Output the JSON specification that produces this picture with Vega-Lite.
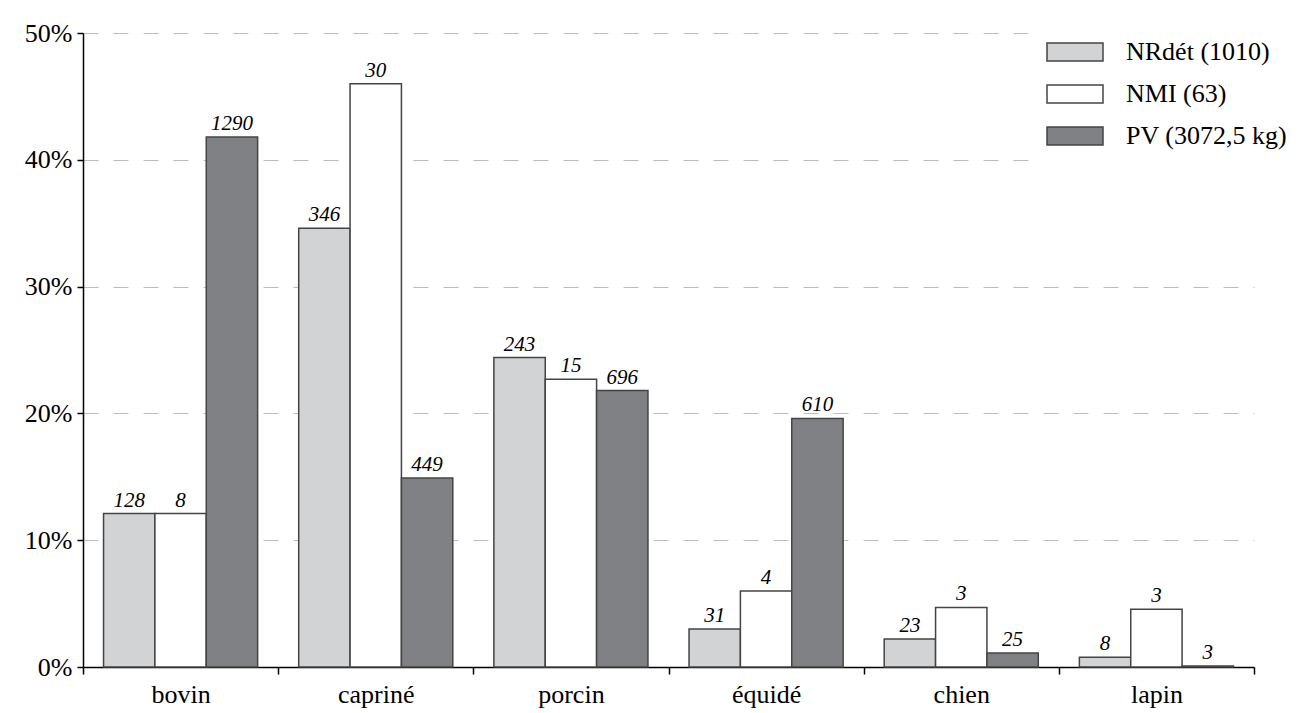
{
  "$schema": "https://vega.github.io/schema/vega-lite/v6.json",
  "width": 1171,
  "height": 634,
  "autosize": "none",
  "padding": {"left": 83, "top": 33, "right": 47, "bottom": 46},
  "background": "white",
  "config": {
    "view": {"stroke": null},
    "font": "Liberation Serif"
  },
  "data": {
    "values": [
      {"cat": "bovin", "series": "NRdét (1010)", "value": 12.1, "n": "128"},
      {"cat": "bovin", "series": "NMI (63)", "value": 12.1, "n": "8"},
      {"cat": "bovin", "series": "PV (3072,5 kg)", "value": 41.8, "n": "1290"},
      {"cat": "capriné", "series": "NRdét (1010)", "value": 34.6, "n": "346"},
      {"cat": "capriné", "series": "NMI (63)", "value": 46.0, "n": "30"},
      {"cat": "capriné", "series": "PV (3072,5 kg)", "value": 14.9, "n": "449"},
      {"cat": "porcin", "series": "NRdét (1010)", "value": 24.4, "n": "243"},
      {"cat": "porcin", "series": "NMI (63)", "value": 22.7, "n": "15"},
      {"cat": "porcin", "series": "PV (3072,5 kg)", "value": 21.8, "n": "696"},
      {"cat": "équidé", "series": "NRdét (1010)", "value": 3.0, "n": "31"},
      {"cat": "équidé", "series": "NMI (63)", "value": 6.0, "n": "4"},
      {"cat": "équidé", "series": "PV (3072,5 kg)", "value": 19.6, "n": "610"},
      {"cat": "chien", "series": "NRdét (1010)", "value": 2.2, "n": "23"},
      {"cat": "chien", "series": "NMI (63)", "value": 4.7, "n": "3"},
      {"cat": "chien", "series": "PV (3072,5 kg)", "value": 1.1, "n": "25"},
      {"cat": "lapin", "series": "NRdét (1010)", "value": 0.76, "n": "8"},
      {"cat": "lapin", "series": "NMI (63)", "value": 4.55, "n": "3"},
      {"cat": "lapin", "series": "PV (3072,5 kg)", "value": 0.08, "n": "3"}
    ]
  },
  "encoding": {
    "x": {
      "field": "cat", "type": "nominal",
      "sort": ["bovin", "capriné", "porcin", "équidé", "chien", "lapin"],
      "scale": {"paddingInner": 0, "paddingOuter": 0},
      "axis": {
        "title": null, "labelAngle": 0, "labelFont": "Liberation Serif", "labelFontSize": 26,
        "labelColor": "black", "domainColor": "black", "domainWidth": 1.5, "tickColor": "black",
        "tickWidth": 1.5, "tickSize": 7, "tickBand": "extent", "labelPadding": 7
      }
    },
    "xOffset": {
      "field": "series", "type": "nominal",
      "sort": ["NRdét (1010)", "NMI (63)", "PV (3072,5 kg)"],
      "scale": {"paddingInner": 0, "paddingOuter": 0.4}
    },
    "y": {
      "field": "value", "type": "quantitative",
      "scale": {"domain": [0, 50], "nice": false},
      "axis": {
        "title": null, "values": [0, 10, 20, 30, 40, 50], "labelExpr": "datum.value + '%'",
        "labelFont": "Liberation Serif", "labelFontSize": 26, "labelColor": "black",
        "domainColor": "black", "domainWidth": 1.5, "tickColor": "black", "tickWidth": 1.5, "tickSize": 6,
        "labelPadding": 5, "grid": true, "gridDash": [15, 15], "gridColor": "#bdbdbd", "gridWidth": 1.2
      }
    }
  },
  "layer": [
    {
      "mark": {"type": "bar", "stroke": "#444444", "strokeWidth": 1.5},
      "encoding": {
        "fill": {
          "field": "series", "type": "nominal",
          "sort": ["NRdét (1010)", "NMI (63)", "PV (3072,5 kg)"],
          "scale": {"domain": ["NRdét (1010)", "NMI (63)", "PV (3072,5 kg)"], "range": ["#d2d3d5", "#ffffff", "#808184"]},
          "legend": {
            "title": null, "orient": "none", "legendX": 950, "legendY": -23,
            "fillColor": "white", "padding": 13,
            "symbolType": "M-1,-0.32H1V0.32H-1Z", "symbolSize": 3136,
            "symbolStrokeColor": "#444444", "symbolStrokeWidth": 1.5,
            "labelFont": "Liberation Serif", "labelFontSize": 26, "labelColor": "black",
            "labelOffset": 22, "rowPadding": -20, "labelLimit": 400
          }
        }
      }
    },
    {
      "mark": {"type": "text", "font": "Liberation Serif", "fontStyle": "italic", "fontSize": 21, "baseline": "alphabetic", "dy": -7, "color": "black"},
      "encoding": {"text": {"field": "n"}}
    }
  ]
}
